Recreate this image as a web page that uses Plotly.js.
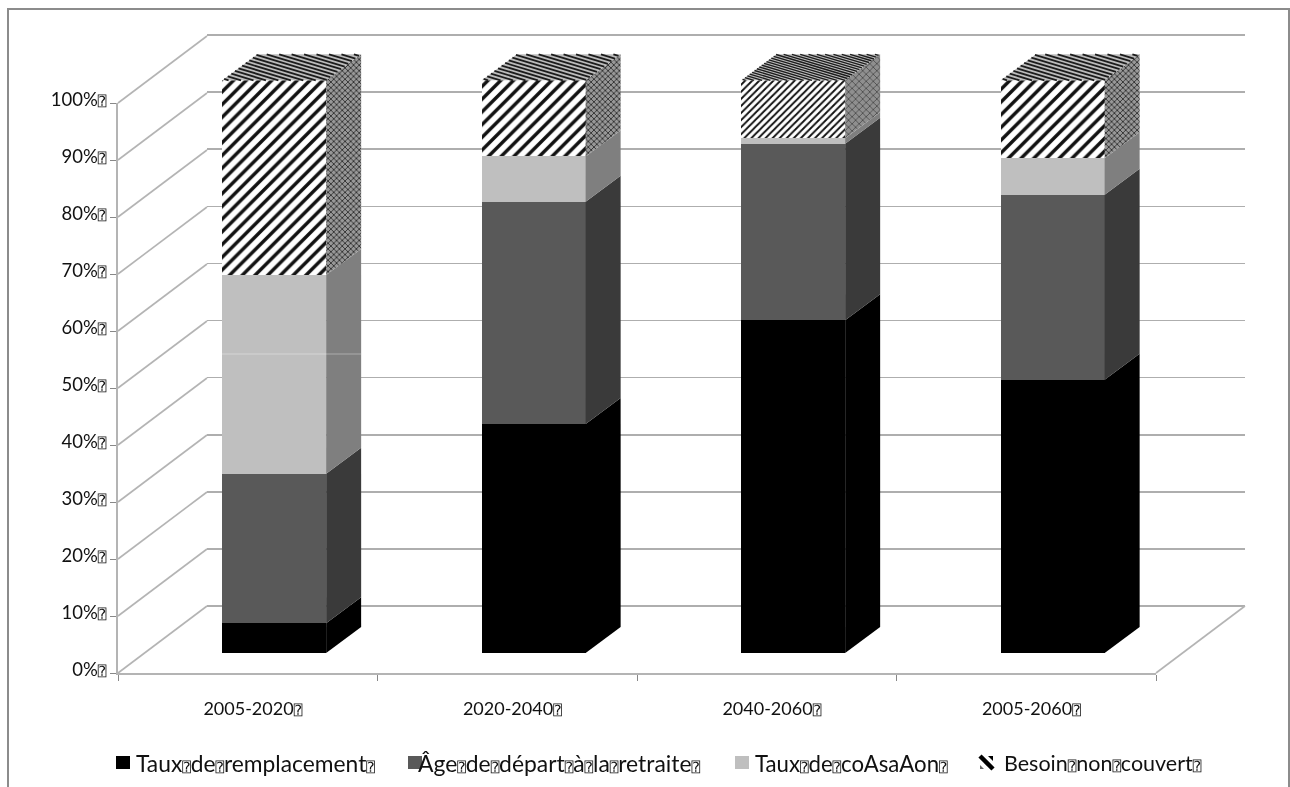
<!DOCTYPE html>
<html>
<head>
<meta charset="utf-8">
<script src="https://cdn.plot.ly/plotly-3.0.1.min.js"></script>
<style>
html,body{margin:0;padding:0;background:#fff;overflow:hidden}
/* Own layer keeps the thin box glyphs on grayscale antialiasing */
#chart .main-svg{will-change:transform}
</style>
</head>
<body>
<div id="chart" style="width:1290px;height:787px"></div>
<script>
// Stacked shares by period, in percent
const periods = ['2005-2020', '2020-2040', '2040-2060', '2005-2060'];
const replacementRate = [5.2, 40.0, 58.1, 47.7];
const retirementAge = [26.1, 38.8, 30.8, 32.3];
const contributionRate = [34.7, 7.9, 1.0, 6.4];
const unmetNeed = [34.0, 13.3, 10.1, 13.6];
const yTicks = [0, 10, 20, 30, 40, 50, 60, 70, 80, 90, 100];
const seriesNames = ['Taux de remplacement', 'Âge de départ à la retraite', 'Taux de coAsaAon', 'Besoin non couvert'];

const W = 1290, H = 787;
const px = (a, b) => [a / W, b / W];
const py = (top, bottom) => [1 - bottom / H, 1 - top / H];

// Missing-glyph box that follows each label and replaces each space
const box = size => `<span style="font-family:'DejaVu Sans Mono';font-size:${size}px">\u2370</span>`;
const boxed = (t, size) => t.split(' ').join(box(size)) + box(size);

// Oblique projection: one band is 259.5px wide, one percent is 5.727px tall on the bars
const BAND = 259.5, UNIT = 5.727, HALF = 0.2;
const sideDx = 35 / BAND, sideDy = 26 / UNIT;
const FRONT_UNIT = 5.7;
const wallDx = 89 / BAND, wallDy = 67 / FRONT_UNIT;

const colors = ['#000000', '#595959', '#bfbfbf', '#ffffff'];
const sideColors = ['#000000', '#3a3a3a', '#7f7f7f'];
const series = [replacementRate, retirementAge, contributionRate, unmetNeed];
const stripeSize = [9, 9, 5, 9];

// Axis ranges for a page-wide subplot whose origin sits at pixel (ox, oy)
const pageX = ox => [-0.5 - ox / BAND, -0.5 + (W - ox) / BAND];
const pageY = (oy, unit) => [(oy - H) / unit, oy / unit];

const traces = [];
// Keeps the back-wall and front-axis subplots alive when they hold no marks
const anchorTrace = (x, y) => ({type: 'scatter', mode: 'lines', x: [0], y: [0], xaxis: x, yaxis: y, hoverinfo: 'skip', showlegend: false});
traces.push(anchorTrace('x', 'y'), anchorTrace('x3', 'y3'));

// Slanted lines of the side wall and floor
const wallX = [], wallY = [];
yTicks.forEach(v => { wallX.push(-0.5, -0.5 + wallDx, null); wallY.push(v, v + wallDy, null); });
wallX.push(3.5, 3.5 + wallDx); wallY.push(0, wallDy);
traces.push({type: 'scatter', mode: 'lines', x: wallX, y: wallY, xaxis: 'x2', yaxis: 'y2',
  line: {color: '#b4b4b4', width: 1.6}, hoverinfo: 'skip', showlegend: false});

// Front faces
series.forEach((vals, k) => {
  const marker = {color: colors[k], line: {width: 0}};
  if (k === 3) marker.pattern = {shape: '/', fgcolor: '#111111', bgcolor: '#ffffff', size: stripeSize, solidity: 0.38};
  traces.push({type: 'bar', name: seriesNames[k], x: periods.map((_, i) => i), y: vals, width: 2 * HALF,
    xaxis: 'x4', yaxis: 'y4', marker, showlegend: false});
});

// Right-hand side faces
periods.forEach((_, i) => {
  let base = 0;
  series.forEach((vals, k) => {
    const top = base + vals[i], r = i + HALF;
    const face = {type: 'scatter', mode: 'lines', x: [r, r + sideDx, r + sideDx, r, r],
      y: [base, base + sideDy, top + sideDy, top, base], xaxis: 'x5', yaxis: 'y5', fill: 'toself',
      line: {width: 0}, hoverinfo: 'skip', showlegend: false};
    if (k < 3) face.fillcolor = sideColors[k];
    else {
      face.fillcolor = '#8a8a8a';
      face.fillpattern = i === 2
        ? {shape: 'x', fgcolor: '#3c3c3c', bgcolor: '#8f8f8f', size: 5, solidity: 0.25}
        : {shape: 'x', fgcolor: '#1e1e1e', bgcolor: '#989898', size: 4, solidity: 0.35};
    }
    traces.push(face);
    base = top;
  });
});

// Top faces with their slanted stripes
periods.forEach((_, i) => {
  const l = i - HALF, t = 100;
  traces.push({type: 'scatter', mode: 'lines', x: [l, i + HALF, i + HALF + sideDx, l + sideDx, l], y: [t, t, t + sideDy, t + sideDy, t],
    xaxis: 'x5', yaxis: 'y5', fill: 'toself', fillcolor: '#bcbcbc', line: {width: 0},
    hoverinfo: 'skip', showlegend: false});
  const step = i === 2 ? 0.08 : 0.12, run = 1.17;
  const sx = [], sy = [];
  for (let s0 = -run + step / 2; s0 < 1; s0 += step) {
    // Stripe runs from (s0, back edge) to (s0 + run, front edge), cut to the face
    const d0 = s0 < 0 ? 1 + s0 / run : 1;
    const d1 = s0 + run > 1 ? 1 - (1 - s0) / run : 0;
    const pt = d => { const s = s0 + (1 - d) * run; return [l + s * 2 * HALF + d * sideDx, t + d * sideDy]; };
    const a = pt(d0), b = pt(d1);
    sx.push(a[0], b[0], null); sy.push(a[1], b[1], null);
  }
  traces.push({type: 'scatter', mode: 'lines', x: sx, y: sy, xaxis: 'x5', yaxis: 'y5',
    line: {color: '#1c1c1c', width: i === 2 ? 1.4 : 1.8}, hoverinfo: 'skip', showlegend: false});
});

const labelFont = {family: 'Lato, sans-serif', size: 18, color: '#111'};
const yLabelFont = {family: 'Lato, sans-serif', size: 18.5, color: '#111'};

// Legend: swatch left edges, text starts and sizes along the bottom row
const legendSwatch = [116, 408, 735];
const legendText = [134, 416, 753, 1002];
const legendSize = [22.8, 22.9, 22.2, 21.5];
const shapes = [
  {type: 'rect', xref: 'paper', yref: 'paper', x0: 8 / W, x1: 1289 / W, y0: -0.02, y1: 1 - 9 / H,
    line: {color: '#8c8c8c', width: 2}, fillcolor: 'rgba(0,0,0,0)', layer: 'below'},
  // Faint horizontal seam across the first bar
  {type: 'line', xref: 'paper', yref: 'paper', x0: 222 / W, x1: 361 / W, y0: 1 - 354 / H, y1: 1 - 354 / H,
    line: {color: 'rgba(255,255,255,0.35)', width: 1}}
];
legendSwatch.forEach((x, k) => shapes.push({type: 'rect', xref: 'paper', yref: 'paper',
  x0: x / W, x1: (x + 14) / W, y0: 1 - 769 / H, y1: 1 - 756 / H, fillcolor: colors[k], line: {width: 0}}));
const annotations = seriesNames.map((n, k) => ({xref: 'paper', yref: 'paper', x: legendText[k] / W, y: 1 - 763 / H,
  xanchor: 'left', yanchor: 'middle', showarrow: false, text: boxed(n, 14), font: {family: 'Lato, sans-serif', size: legendSize[k], color: '#111'}, align: 'left'}));
// Fourth swatch: a thick diagonal stroke with small corner wedges
shapes.push({type: 'line', xref: 'paper', yref: 'paper', x0: 980 / W, x1: 993 / W, y0: 1 - 756 / H, y1: 1 - 769 / H,
  line: {color: '#000', width: 4.5}});
shapes.push({type: 'path', xref: 'paper', yref: 'paper',
  path: `M${988 / W},${1 - 756 / H} L${993 / W},${1 - 756 / H} L${993 / W},${1 - 761 / H} Z`, fillcolor: '#000', line: {width: 0}});
shapes.push({type: 'path', xref: 'paper', yref: 'paper',
  path: `M${980 / W},${1 - 765 / H} L${980 / W},${1 - 769 / H} L${984 / W},${1 - 769 / H} Z`, fillcolor: '#666', line: {width: 0}});

const hidden = {visible: false, fixedrange: true};
const layout = {
  width: W, height: H, margin: {l: 0, r: 0, t: 0, b: 0, autoexpand: false},
  paper_bgcolor: '#fff', plot_bgcolor: 'rgba(0,0,0,0)', barmode: 'stack', bargap: 0, showlegend: false,
  // Back wall: carries the horizontal grid; the range runs just past 0 and 100 so both end lines draw
  xaxis: {...hidden, domain: px(207, 1245), range: [-0.5, 3.5]},
  yaxis: {domain: py(35 - 5.71, 606 + 5.71), range: [-1, 101], anchor: 'x', tickvals: yTicks, showgrid: true, gridcolor: '#aeaeae', gridwidth: 1.6,
    showticklabels: false, ticks: '', zeroline: false, showline: false, fixedrange: true},
  // Page-wide plane for the slanted wall lines, on the front-axis scale
  xaxis2: {...hidden, domain: [0, 1], range: pageX(118), anchor: 'y2'},
  yaxis2: {...hidden, domain: [0, 1], range: pageY(673, FRONT_UNIT), anchor: 'x2'},
  // Front plane: carries the visible axes
  xaxis3: {domain: px(118, 1156), range: [-0.5, 3.5], anchor: 'y3', tickmode: 'array', tickvals: periods.map((_, i) => i), ticktext: periods.map(p => p + box(14)),
    ticks: '', showline: true, linecolor: '#b4b4b4', linewidth: 2, showgrid: false, zeroline: false, tickfont: labelFont, ticklabelstandoff: 18, ticklabelshift: 5,
    minor: {tickmode: 'array', tickvals: [-0.5, 0.5, 1.5, 2.5, 3.5], ticks: 'outside', ticklen: 6, tickwidth: 1, tickcolor: '#888', showgrid: false}, fixedrange: true},
  yaxis3: {domain: py(103, 673), range: [0, 100], anchor: 'x3', tickmode: 'array', tickvals: yTicks, ticktext: yTicks.map(v => v + '%' + box(14)),
    ticks: 'outside', ticklen: 6, tickwidth: 1, tickcolor: '#888', ticklabelshift: -3, showline: true, linecolor: '#b4b4b4', linewidth: 2, showgrid: false, zeroline: false, tickfont: yLabelFont, fixedrange: true},
  // Plane of the bars, pushed back from the front axes
  xaxis4: {...hidden, domain: px(144.5, 1182.5), range: [-0.5, 3.5], anchor: 'y4'},
  yaxis4: {...hidden, domain: py(80.3, 653), range: [0, 100], anchor: 'x4'},
  // Page-wide plane on the bar scale, for the side and top faces
  xaxis5: {...hidden, domain: [0, 1], range: pageX(144.5), anchor: 'y5'},
  yaxis5: {...hidden, domain: [0, 1], range: pageY(653, UNIT), anchor: 'x5'},
  shapes, annotations
};

Plotly.newPlot('chart', traces, layout, {displayModeBar: false, staticPlot: true});
</script>
</body>
</html>
